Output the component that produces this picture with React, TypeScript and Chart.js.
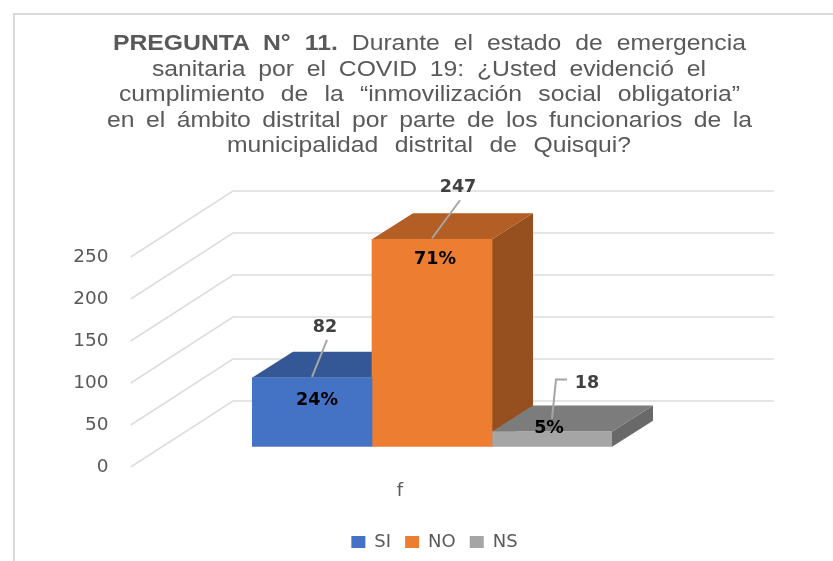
import React, { useEffect, useRef } from "react";
import { Chart, registerables } from "chart.js";

Chart.register(...registerables);

const categories = ["f"];
const seriesNames = ["SI", "NO", "NS"];
const seriesValues = [82, 247, 18];
const percentLabels = ["24%", "71%", "5%"];
const yMax = 250;
const yStep = 50;

const titleLines = [
  ["PREGUNTA N° 11.", " Durante el estado de emergencia"],
  ["", "sanitaria por el COVID 19: ¿Usted evidenció el"],
  ["", "cumplimiento de la “inmovilización social obligatoria”"],
  ["", "en el ámbito distrital por parte de los funcionarios de la"],
  ["", "municipalidad distrital de Quisqui?"],
];

// layout / style only
const titleBoxes = [
  { l: 113, r: 746, t: 31 },
  { l: 152, r: 706, t: 56.5 },
  { l: 119, r: 740, t: 82 },
  { l: 107, r: 752, t: 107.5 },
  { l: 227, r: 631, t: 133 },
];
const TITLE_STRETCH = 1.15;
const frontColors = ["#4472C4", "#ED7D31", "#A5A5A5"];
const topColors = ["#345895", "#B35E25", "#7C7C7C"];
const sideColors = ["#2F4F86", "#964F1F", "#696969"];
const DEPTH_X = 41;
const DEPTH_Y = 26;
const labelLayout = [
  { value: [13, -50.5], pct: [5, 22.5], leader: [[15, -38], [0, -1]] },
  { value: [26, -52], pct: [3, 20.5], leader: [[28, -39], [0, -1]] },
  { value: [35, -48.5], pct: [-3, -3.5], leader: [[15, -52], [4, -52], [0, -13]] },
];

const poly = (ctx: CanvasRenderingContext2D, pts: number[][], fill: string) => {
  ctx.beginPath();
  pts.forEach(([x, y], i) => (i ? ctx.lineTo(x, y) : ctx.moveTo(x, y)));
  ctx.closePath();
  ctx.fillStyle = fill;
  ctx.fill();
};

const threeD = {
  id: "threeD",
  beforeDatasetsDraw(chart: any) {
    const { ctx, chartArea } = chart;
    const y = chart.scales.y;
    ctx.save();
    ctx.strokeStyle = "#DDDDDD";
    ctx.lineWidth = 1.6;
    y.ticks.forEach((t: any) => {
      const p = y.getPixelForValue(t.value);
      ctx.beginPath();
      ctx.moveTo(chartArea.left - 121.3, p + 20.3);
      ctx.lineTo(chartArea.left - 19, p - 45.7);
      ctx.lineTo(chartArea.left + 522, p - 45.7);
      ctx.stroke();
    });
    seriesValues.forEach((_, i) => {
      const b = chart.getDatasetMeta(i).data[0];
      const l = b.x - b.width / 2;
      const r = b.x + b.width / 2;
      poly(ctx, [[r, b.y], [r + DEPTH_X, b.y - DEPTH_Y], [r + DEPTH_X, b.base - DEPTH_Y], [r, b.base]], sideColors[i]);
      poly(ctx, [[l, b.y], [l + DEPTH_X, b.y - DEPTH_Y], [r + DEPTH_X, b.y - DEPTH_Y], [r, b.y]], topColors[i]);
    });
    ctx.restore();
  },
  afterDatasetsDraw(chart: any) {
    const { ctx } = chart;
    ctx.save();
    ctx.textAlign = "center";
    ctx.textBaseline = "middle";
    seriesValues.forEach((v, i) => {
      const b = chart.getDatasetMeta(i).data[0];
      const lay = labelLayout[i];
      ctx.strokeStyle = "#A6A6A6";
      ctx.lineWidth = 2;
      ctx.beginPath();
      lay.leader.forEach(([dx, dy], k) => (k ? ctx.lineTo(b.x + dx, b.y + dy) : ctx.moveTo(b.x + dx, b.y + dy)));
      ctx.stroke();
      ctx.font = "bold 17.5px 'DejaVu Sans'";
      ctx.fillStyle = "#404040";
      ctx.fillText(String(v), b.x + lay.value[0], b.y + lay.value[1]);
      ctx.fillStyle = "#000000";
      ctx.fillText(percentLabels[i], b.x + lay.pct[0], b.y + lay.pct[1]);
    });
    ctx.restore();
  },
};

export default function App() {
  const ref = useRef<HTMLCanvasElement>(null);
  useEffect(() => {
    const chart = new Chart(ref.current as HTMLCanvasElement, {
      type: "bar",
      data: {
        labels: categories,
        datasets: seriesNames.map((name, i) => ({
          label: name,
          data: [seriesValues[i]],
          backgroundColor: frontColors[i],
          borderWidth: 0,
          barPercentage: 1,
          categoryPercentage: 1,
        })),
      },
      options: {
        responsive: false,
        animation: false,
        devicePixelRatio: 1,
        layout: { padding: { left: 36, top: 236.7, right: 0, bottom: 0 } },
        plugins: {
          title: { display: false },
          tooltip: { enabled: false },
          legend: {
            position: "bottom",
            labels: {
              boxWidth: 14,
              boxHeight: 12,
              padding: 14,
              color: "#595959",
              font: { family: "'DejaVu Sans'", size: 18 },
            },
          },
        },
        scales: {
          x: {
            grid: { display: false },
            border: { display: false },
            afterFit: (s: any) => {
              s.height = 72.3;
            },
            ticks: {
              color: "#595959",
              padding: 26,
              labelOffset: -32,
              font: { family: "'DejaVu Sans'", size: 18 },
            },
          },
          y: {
            min: 0,
            max: yMax,
            grid: { display: false },
            border: { display: false },
            afterFit: (s: any) => {
              s.width = 216;
              s.paddingTop = 0;
              s.paddingBottom = 0;
            },
            ticks: {
              stepSize: yStep,
              color: "#595959",
              padding: 135.5,
              labelOffset: 20.3,
              font: { family: "'DejaVu Sans'", size: 18.5 },
            },
          },
          spacer: {
            type: "linear",
            position: "right",
            grid: { display: false },
            border: { display: false },
            ticks: { display: false },
            afterFit: (s: any) => {
              s.width = 221;
            },
          },
        },
      } as any,
      plugins: [threeD],
    });
    return () => chart.destroy();
  }, []);

  return (
    <div style={{ position: "absolute", left: 0, top: 0, width: 833, height: 561, overflow: "hidden", background: "#fff" }}>
      <canvas ref={ref} width={833} height={561} style={{ position: "absolute", left: 0, top: 0 }} />
      <div
        style={{
          position: "absolute",
          left: 12.5,
          top: 12.5,
          right: 0,
          bottom: 0,
          borderLeft: "2px solid #D9D9D9",
          borderTop: "2px solid #D9D9D9",
        }}
      />
      {titleLines.map(([bold, rest], i) => (
        <div
          key={i}
          style={{
            position: "absolute",
            left: titleBoxes[i].l,
            width: (titleBoxes[i].r - titleBoxes[i].l) / TITLE_STRETCH,
            top: titleBoxes[i].t,
            transform: `scaleX(${TITLE_STRETCH})`,
            transformOrigin: "left top",
            fontFamily: "'Liberation Sans'",
            fontSize: 21.5,
            lineHeight: "25px",
            color: "#595959",
            whiteSpace: "nowrap",
            textAlign: "justify",
            textAlignLast: "justify",
          }}
        >
          {bold ? <b>{bold}</b> : null}
          {rest}
        </div>
      ))}
    </div>
  );
}
